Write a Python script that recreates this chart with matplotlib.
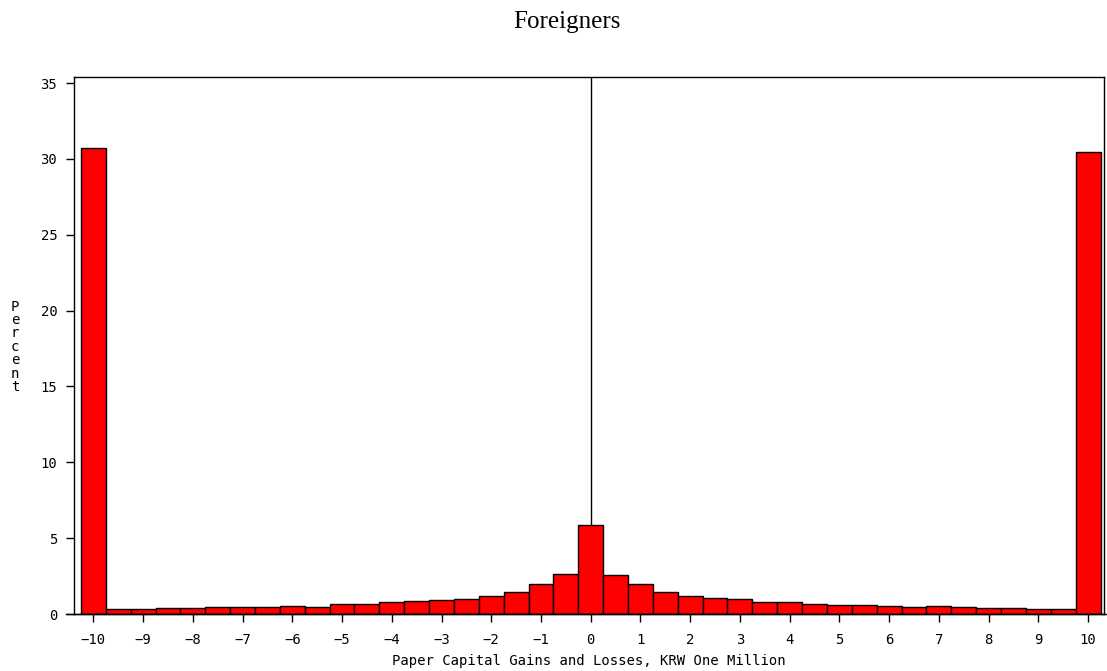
import matplotlib
matplotlib.use("Agg")
import matplotlib.pyplot as plt
import numpy as np

# bin centres, KRW one million (width 0.5)
bin_centers = np.arange(-10.0, 10.01, 0.5)
percent = [
    30.74, 0.31, 0.31, 0.37, 0.37, 0.44, 0.44, 0.44, 0.53, 0.44,
    0.66, 0.66, 0.80, 0.88, 0.92, 1.00, 1.20, 1.47, 2.00, 2.66,
    5.87,
    2.60, 2.00, 1.47, 1.20, 1.07, 1.00, 0.80, 0.80, 0.66, 0.59,
    0.59, 0.53, 0.44, 0.53, 0.44, 0.37, 0.37, 0.31, 0.31, 30.45,
]
x_ticks = list(range(-10, 11))
y_ticks = list(range(0, 36, 5))

mono = "DejaVu Sans Mono"

fig = plt.figure(figsize=(11.07, 6.71), dpi=100)
ax = fig.add_axes([0.0668, 0.0849, 0.9305, 0.8003])

ax.axvline(0, color="black", linewidth=1.0, zorder=1)
ax.bar(bin_centers, percent, width=0.5, color="#ff0000",
       edgecolor="black", linewidth=1.0, zorder=2)

ax.set_xlim(-10.39, 10.32)
ax.set_ylim(0, 35.4)
ax.set_xticks(x_ticks)
ax.set_yticks(y_ticks)
ax.tick_params(axis="both", direction="out", length=6, width=1, labelsize=10)
ax.tick_params(axis="x", pad=8)
ax.tick_params(axis="y", pad=6)
for lab in ax.get_xticklabels() + ax.get_yticklabels():
    lab.set_fontfamily(mono)

for sp in ax.spines.values():
    sp.set_linewidth(1.0)

# baseline runs a little past the frame, as in the original
ax.plot([-10.55, 10.38], [0, 0], color="black", linewidth=1.0,
        clip_on=False, zorder=3)

ax.set_xlabel("Paper Capital Gains and Losses, KRW One Million",
              fontfamily=mono, fontsize=10, labelpad=5)

fig.text(0.0135, 0.483, "\n".join("Percent"), fontfamily=mono, fontsize=10,
         ha="center", va="center", linespacing=0.95)

fig.text(0.512, 0.967, "Foreigners", fontfamily="Liberation Serif",
         fontsize=18, ha="center", va="center")

fig.savefig("out.png", dpi=100)
